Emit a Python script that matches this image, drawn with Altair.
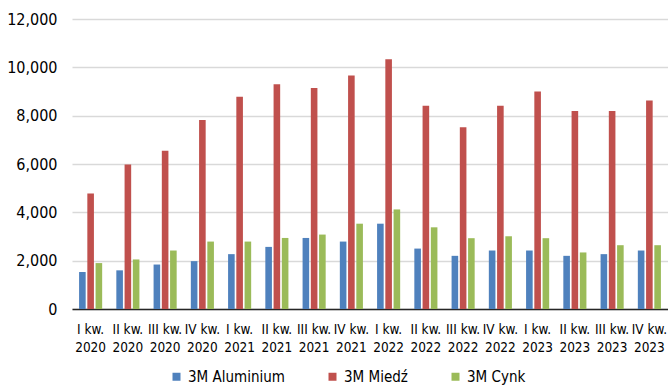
import altair as alt
import pandas as pd

quarters = [
    "I kw. 2020", "II kw. 2020", "III kw. 2020", "IV kw. 2020",
    "I kw. 2021", "II kw. 2021", "III kw. 2021", "IV kw. 2021",
    "I kw. 2022", "II kw. 2022", "III kw. 2022", "IV kw. 2022",
    "I kw. 2023", "II kw. 2023", "III kw. 2023", "IV kw. 2023",
]
series_names = ["3M Aluminium", "3M Miedź", "3M Cynk"]
aluminium = [1530, 1600, 1840, 1980, 2270, 2570, 2940, 2790,
             3530, 2500, 2200, 2420, 2420, 2200, 2270, 2420]
miedz = [4780, 5980, 6550, 7820, 8780, 9300, 9150, 9660,
         10330, 8410, 7520, 8410, 9000, 8190, 8190, 8630]
cynk = [1900, 2050, 2420, 2790, 2790, 2940, 3080, 3530,
        4120, 3380, 2930, 3010, 2930, 2340, 2640, 2640]
colors = ["#4F81BD", "#C0504D", "#9BBB59"]

rows = []
for name, vals in zip(series_names, [aluminium, miedz, cynk]):
    for q, v in zip(quarters, vals):
        rows.append({"kwartal": q, "seria": name, "wartosc": v})
df = pd.DataFrame(rows)

FONT = "DejaVu Sans Condensed, Liberation Sans, sans-serif"

chart = alt.Chart(df).mark_bar().encode(
    x=alt.X("kwartal:N", sort=quarters, title=None,
            scale=alt.Scale(paddingInner=0.38, paddingOuter=0.19),
            axis=alt.Axis(labelAngle=0, ticks=False, domainColor="#262626",
                          domainWidth=1.5, labelPadding=13, labelFontSize=13.5,
                          labelColor="#000000", labelFont=FONT, labelLineHeight=18,
                          labelExpr="[slice(datum.label, 0, -5), slice(datum.label, -4)]")),
    xOffset=alt.XOffset("seria:N", sort=series_names,
                        scale=alt.Scale(paddingInner=0.2, paddingOuter=0)),
    y=alt.Y("wartosc:Q", title=None,
            scale=alt.Scale(domain=[0, 12000]),
            axis=alt.Axis(values=[0, 2000, 4000, 6000, 8000, 10000, 12000], format=",.0f",
                          domain=False, ticks=False, labelPadding=15,
                          labelFontSize=16, labelFont=FONT, labelColor="#000000",
                          gridColor="#d9d9d9", gridWidth=1.5)),
    color=alt.Color("seria:N", sort=series_names,
                    scale=alt.Scale(domain=series_names, range=colors),
                    legend=alt.Legend(title=None, orient="none", direction="horizontal",
                                      legendX=97, legendY=350,
                                      symbolType="square", symbolSize=64,
                                      symbolStrokeWidth=0,
                                      labelFont=FONT, labelFontSize=15,
                                      labelColor="#000000", columnPadding=40,
                                      labelOffset=4)),
).properties(
    width=596, height=290,
    autosize=alt.AutoSizeParams(type="none"),
    padding={"left": 72, "top": 19, "right": 0, "bottom": 76},
).configure_view(stroke=None)

chart.save("out.html", embed_options={"renderer": "svg", "actions": False})
